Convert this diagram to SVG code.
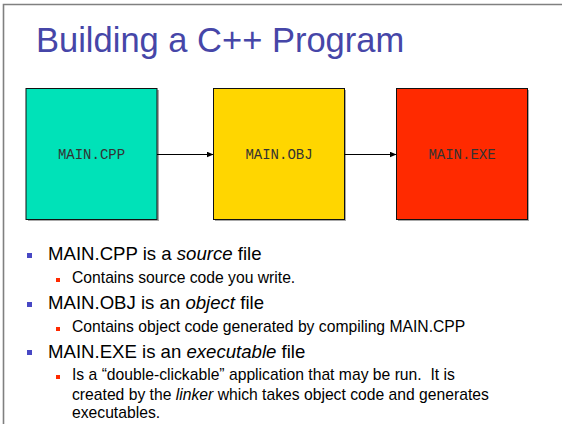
<svg xmlns="http://www.w3.org/2000/svg" width="562" height="424" viewBox="0 0 562 424">
<defs>
<style>
.title{font-family:"Liberation Sans",Arial,sans-serif;font-size:34.5px;fill:#4646A8}
.box{stroke:#111;stroke-width:1}
.shadow{fill:#a8a8a8}
.lbl{font-family:"Liberation Mono","Courier New",monospace;font-size:14px;fill:#333;text-anchor:middle}
.l1{font-family:"Liberation Sans",Arial,sans-serif;font-size:18.6px;fill:#000}
.l2{font-family:"Liberation Sans",Arial,sans-serif;font-size:15.7px;fill:#000}
.b1{fill:#4848C4}
.b2{fill:#FF2A00}
.conn{stroke:#000;stroke-width:1.2;fill:none}
</style>
<marker id="arr" markerWidth="7" markerHeight="6" refX="6.5" refY="3" orient="auto" markerUnits="userSpaceOnUse">
<path d="M0,0 L7,3 L0,6 Z" fill="#000"/>
</marker>
</defs>
<rect x="0" y="0" width="562" height="424" fill="#fff"/>
<path d="M3.5,424 V4.5 H562" fill="none" stroke="#808080" stroke-width="1.6"/>
<text class="title" x="36" y="52">Building a C++ Program</text>

<g id="node-cpp">
<rect class="shadow" x="28" y="90" width="131" height="131"/>
<rect class="box" x="26" y="88.5" width="131" height="131" fill="#00E2B8"/>
<text class="lbl" x="91.5" y="159">MAIN.CPP</text>
</g>
<g id="node-obj">
<rect class="shadow" x="215" y="90" width="131" height="131"/>
<rect class="box" x="213.5" y="88.5" width="131" height="131" fill="#FFD600"/>
<text class="lbl" x="279" y="159">MAIN.OBJ</text>
</g>
<g id="node-exe">
<rect class="shadow" x="398" y="90" width="131" height="131"/>
<rect class="box" x="396.5" y="88.5" width="131" height="131" fill="#FF2A00"/>
<text class="lbl" x="462" y="159">MAIN.EXE</text>
</g>

<g id="connectors">
<line class="conn" x1="157" y1="154.5" x2="213" y2="154.5" marker-end="url(#arr)"/>
<line class="conn" x1="344.5" y1="154.5" x2="396" y2="154.5" marker-end="url(#arr)"/>
</g>

<g id="bullets">
<rect class="b1" x="27" y="253" width="5" height="5"/>
<text class="l1" x="48" y="260">MAIN.CPP is a <tspan font-style="italic">source</tspan> file</text>
<rect class="b2" x="56" y="278" width="4" height="4"/>
<text class="l2" x="72" y="283">Contains source code you write.</text>
<rect class="b1" x="27" y="302" width="5" height="5"/>
<text class="l1" x="48" y="309">MAIN.OBJ is an <tspan font-style="italic">object</tspan> file</text>
<rect class="b2" x="56" y="327" width="4" height="4"/>
<text class="l2" x="72" y="332">Contains object code generated by compiling MAIN.CPP</text>
<rect class="b1" x="27" y="350" width="5" height="5"/>
<text class="l1" x="48" y="357.5">MAIN.EXE is an <tspan font-style="italic">executable</tspan> file</text>
<rect class="b2" x="56" y="375" width="4" height="4"/>
<text class="l2" x="72" y="380" xml:space="preserve">Is a “double-clickable” application that may be run.  It is</text>
<text class="l2" x="72" y="399.5">created by the <tspan font-style="italic">linker</tspan> which takes object code and generates</text>
<text class="l2" x="72" y="418">executables.</text>
</g>
</svg>
